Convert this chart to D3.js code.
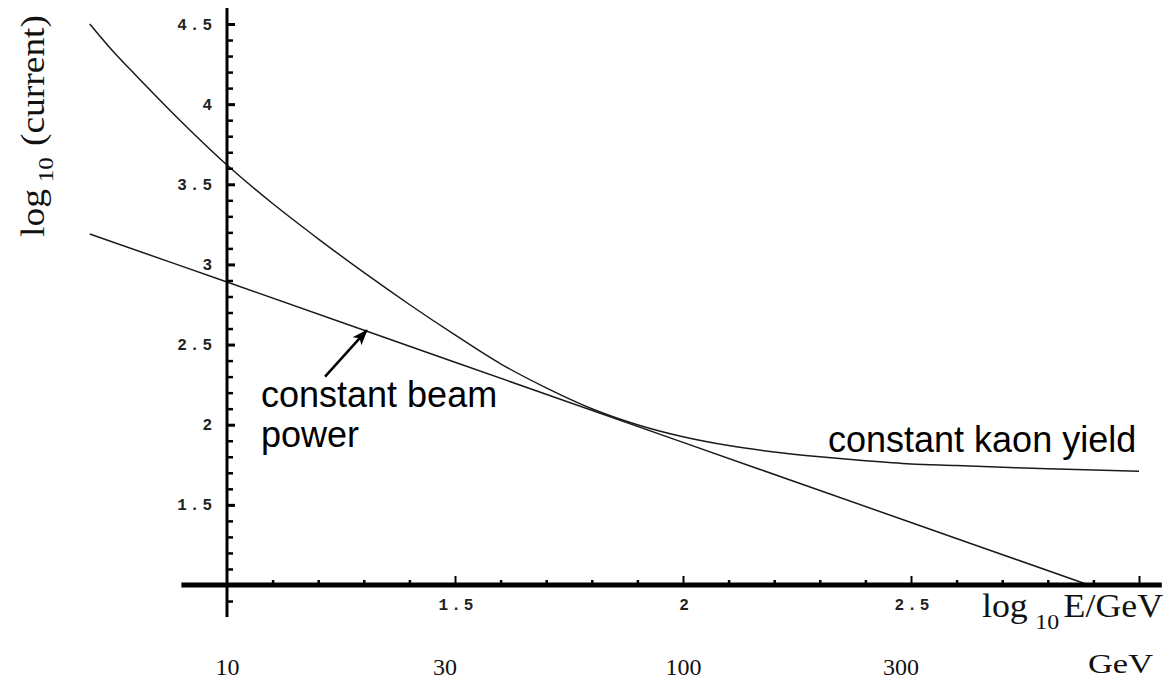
<!DOCTYPE html>
<html>
<head>
<meta charset="utf-8">
<script src="https://cdn.jsdelivr.net/npm/d3@7"></script>
<style>
  body { margin: 0; background: #fff; }
  svg { display: block; }
  .mono { font-family: "Liberation Mono", "Courier New", monospace; font-size: 16px; font-weight: bold; letter-spacing: 3px; fill: #222; }
  .serif { font-family: "Liberation Serif", "Times New Roman", serif; fill: #111; }
  .sans { font-family: "Liberation Sans", Arial, sans-serif; fill: #000; }
</style>
</head>
<body>
<svg id="chart"></svg>
<script>
// log10 E/GeV vs log10 current
const kaonLogE = [0.699, 0.75, 0.8, 0.9, 1.0, 1.1, 1.2, 1.3, 1.4, 1.5, 1.6, 1.7, 1.8, 1.9, 2.0, 2.1, 2.2, 2.3, 2.4, 2.5, 2.6, 2.8, 3.0];
const kaonLogI = [4.50, 4.33, 4.18, 3.89, 3.62, 3.38, 3.16, 2.95, 2.75, 2.56, 2.38, 2.23, 2.10, 2.00, 1.925, 1.87, 1.83, 1.80, 1.775, 1.755, 1.745, 1.725, 1.71];

const beamLogE = [0.699, 1.0, 1.5, 2.0, 2.5, 2.89];
const beamLogI = [3.19, 2.89, 2.39, 1.89, 1.39, 1.0];

const xMajor = [1.5, 2, 2.5, 3];
const xLabels = ["1.5", "2", "2.5", ""];
const yMajor = [1.5, 2, 2.5, 3, 3.5, 4, 4.5];
const yLabels = ["1.5", "2", "2.5", "3", "3.5", "4", "4.5"];
const gevTicks = [10, 30, 100, 300];

const width = 1172;
const height = 683;

let x = d3.scaleLinear().domain([1, 3]).range([227, 1139]);
let y = d3.scaleLinear().domain([1, 4.5]).range([585, 24]);
let xE = d3.scaleLog().domain([10, 1000]).range([227, 1139]);

let svg = d3.select("#chart")
    .attr("width", width)
    .attr("height", height);

svg.append("rect").attr("width", width).attr("height", height).attr("fill", "#fff");

// curves
let line = d3.line()
    .x(d => x(d[0]))
    .y(d => y(d[1]))
    .curve(d3.curveCatmullRom);

svg.append("path")
    .datum(kaonLogE.map((e, i) => [e, kaonLogI[i]]))
    .attr("d", line)
    .attr("fill", "none")
    .attr("stroke", "#1a1a1a")
    .attr("stroke-width", 1.5);

svg.append("path")
    .datum(beamLogE.map((e, i) => [e, beamLogI[i]]))
    .attr("d", line)
    .attr("fill", "none")
    .attr("stroke", "#1a1a1a")
    .attr("stroke-width", 1.5);

// axes lines
svg.append("line")
    .attr("x1", x(0.9)).attr("x2", x(3.05))
    .attr("y1", y(1)).attr("y2", y(1))
    .attr("stroke", "#000").attr("stroke-width", 5);

svg.append("line")
    .attr("x1", x(1)).attr("x2", x(1))
    .attr("y1", y(0.8)).attr("y2", y(4.6))
    .attr("stroke", "#000").attr("stroke-width", 3);

// y ticks
let yMinor = d3.range(9, 45).map(d => d / 10).filter(d => d !== 1 && !yMajor.includes(d));
let xMinor = d3.range(11, 30).map(d => d / 10).filter(d => !xMajor.includes(d));

function styleTicks(g, w) {
    g.select(".domain").remove();
    g.selectAll(".tick line").attr("stroke", "#000").attr("stroke-width", w);
}

function styleLabels(g, cls) {
    g.select(".domain").remove();
    g.attr("font-size", null).attr("font-family", null);
    g.selectAll("text").attr("class", cls).attr("fill", null);
}

svg.append("g")
    .attr("transform", `translate(${x(1) + 1},0)`)
    .call(d3.axisRight(y).tickValues(yMinor).tickSize(5).tickFormat(""))
    .call(g => styleTicks(g, 2.5));

svg.append("g")
    .attr("transform", `translate(${x(1) + 1},0)`)
    .call(d3.axisRight(y).tickValues(yMajor).tickSize(7).tickFormat(""))
    .call(g => styleTicks(g, 3));

svg.append("g")
    .attr("transform", `translate(${x(1) - 12},0)`)
    .call(d3.axisLeft(y).tickValues(yMajor).tickSize(0).tickPadding(0).tickFormat((d, i) => yLabels[i]))
    .call(g => styleLabels(g, "mono"));

// x ticks
svg.append("g")
    .attr("transform", `translate(0,${y(1) - 2})`)
    .call(d3.axisTop(x).tickValues(xMinor).tickSize(3).tickFormat(""))
    .call(g => styleTicks(g, 2.5));

svg.append("g")
    .attr("transform", `translate(0,${y(1) - 2})`)
    .call(d3.axisTop(x).tickValues(xMajor).tickSize(7).tickFormat(""))
    .call(g => styleTicks(g, 2));

svg.append("g")
    .attr("transform", `translate(2,${y(1) + 14})`)
    .call(d3.axisBottom(x).tickValues(xMajor).tickSize(0).tickPadding(0).tickFormat((d, i) => xLabels[i]))
    .call(g => styleLabels(g, "mono"));

// GeV row
svg.append("g")
    .attr("transform", `translate(0,658)`)
    .call(d3.axisBottom(xE).tickValues(gevTicks).tickSize(0).tickPadding(0).tickFormat(d3.format("d")))
    .call(g => styleLabels(g, "serif"))
    .call(g => g.selectAll("text").attr("font-size", 24));

svg.append("text")
    .attr("class", "serif")
    .attr("x", 1088).attr("y", 673)
    .attr("font-size", 27)
    .attr("textLength", 65).attr("lengthAdjust", "spacingAndGlyphs")
    .text("GeV");

// axis titles
let xt = svg.append("text")
    .attr("class", "serif")
    .attr("x", 982).attr("y", 617)
    .attr("font-size", 33)
    .attr("textLength", 181).attr("lengthAdjust", "spacingAndGlyphs");
xt.append("tspan").text("log");
xt.append("tspan").attr("font-size", 22).attr("dx", 7).attr("dy", 12).text("10");
xt.append("tspan").attr("dx", 4).attr("dy", -12).text("E/GeV");

let yt = svg.append("text")
    .attr("class", "serif")
    .attr("transform", "translate(44,237) rotate(-90)")
    .attr("font-size", 33)
    .attr("textLength", 222).attr("lengthAdjust", "spacingAndGlyphs");
yt.append("tspan").text("log");
yt.append("tspan").attr("font-size", 22).attr("dx", 6).attr("dy", 9).text("10");
yt.append("tspan").attr("dx", 10).attr("dy", -9).text("(current)");

// annotations
svg.append("defs").append("marker")
    .attr("id", "arrow")
    .attr("markerUnits", "userSpaceOnUse")
    .attr("viewBox", "0 0 16 12")
    .attr("refX", 15).attr("refY", 6)
    .attr("markerWidth", 16).attr("markerHeight", 12)
    .attr("orient", "auto")
    .append("path")
    .attr("d", "M0,0 L16,6 L0,12 L4,6 Z")
    .attr("fill", "#000");

svg.append("line")
    .attr("x1", x(1.215)).attr("y1", y(2.3))
    .attr("x2", x(1.307)).attr("y2", y(2.59))
    .attr("stroke", "#000").attr("stroke-width", 2.5)
    .attr("marker-end", "url(#arrow)");

svg.append("text").attr("class", "sans")
    .attr("x", 261).attr("y", 407).attr("font-size", 36)
    .text("constant beam");
svg.append("text").attr("class", "sans")
    .attr("x", 261).attr("y", 447).attr("font-size", 36)
    .text("power");
svg.append("text").attr("class", "sans")
    .attr("x", 828).attr("y", 452).attr("font-size", 36)
    .text("constant kaon yield");
</script>
</body>
</html>
